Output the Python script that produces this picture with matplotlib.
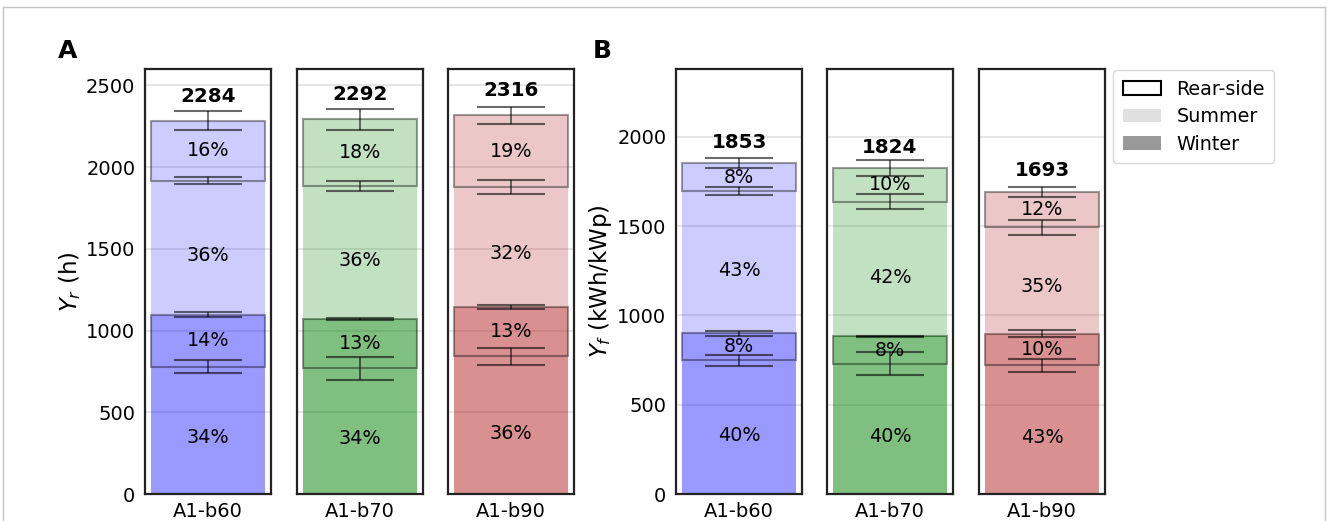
import numpy as np
import matplotlib.pyplot as plt
import matplotlib.colors as mc
from matplotlib.patches import Patch
from matplotlib.lines import Line2D

cases = ["A1-b60", "A1-b70", "A1-b90"]
base_colors = ["blue", "green", "firebrick"]
dark_alpha = [0.4, 0.5, 0.5]
light_alpha = [0.2, 0.24, 0.25]

# panel A: Y_r (h); stack bottom->top = winter front, winter rear, summer front, summer rear
yr_winter_front = [780, 770, 842]
yr_winter_rear = [316, 300, 304]
yr_summer_front = [821, 815, 734]
yr_summer_rear = [367, 407, 436]
yr_err = [[37, 16, 20, 57], [71, 5, 31, 63], [50, 13, 42, 52]]
yr_pct = [["34%", "14%", "36%", "16%"],
          ["34%", "13%", "36%", "18%"],
          ["36%", "13%", "32%", "19%"]]
yr_total = [2284, 2292, 2316]

# panel B: Y_f (kWh/kWp)
yf_winter_front = [748, 730, 721]
yf_winter_rear = [151, 152, 177]
yf_summer_front = [796, 756, 595]
yf_summer_rear = [158, 186, 200]
yf_err = [[33, 13, 22, 29], [63, 4, 40, 45], [37, 19, 44, 28]]
yf_pct = [["40%", "8%", "43%", "8%"],
          ["40%", "8%", "42%", "10%"],
          ["43%", "10%", "35%", "12%"]]
yf_total = [1853, 1824, 1693]

W, H = 1327, 521
FS = 13.8


def rgba(c, a):
    r, g, b = mc.to_rgb(c)
    return (r, g, b, a)


def draw_panel(lefts, wf, wr, sf, sr, err, pct, total, ylim, ticks, off, ylabel):
    axs = []
    for i, x0 in enumerate(lefts):
        ax = fig.add_axes([x0 / W, 27 / H, 126 / W, 425 / H])
        segs = [wf[i], wr[i], sf[i], sr[i]]
        tops = np.cumsum(segs)
        bottoms = tops - np.array(segs)
        dark = rgba(base_colors[i], dark_alpha[i])
        light = rgba(base_colors[i], light_alpha[i])
        fcs = [dark, dark, light, light]
        for k in range(4):
            rear = k in (1, 3)
            ax.bar(0, segs[k], bottom=bottoms[k], width=0.9, color=fcs[k],
                   edgecolor=(0, 0, 0, 0.38) if rear else "none",
                   linewidth=1.5 if rear else 0, zorder=2)
            # front-side labels sit a little below the middle
            frac = 0.5 if rear else 0.44
            ax.text(0, bottoms[k] + segs[k] * frac, pct[i][k], ha="center", va="center",
                    fontsize=FS, zorder=5)
        ax.errorbar([0] * 4, tops, yerr=err[i], fmt="none", ecolor=(0, 0, 0, 0.58),
                    capsize=24.5, elinewidth=1.3, capthick=1.5, zorder=4)
        ax.text(0, total[i] + off, str(total[i]), ha="center", va="center",
                fontsize=FS + 0.5, fontweight="bold", zorder=5)
        ax.set_xlim(-0.5, 0.5)
        ax.set_ylim(*ylim)
        ax.set_yticks(ticks)
        ax.set_xticks([0])
        ax.set_xticklabels([cases[i]], fontsize=FS + 0.4)
        ax.yaxis.grid(True, color="#e4e4e4", linewidth=1.3, zorder=0)
        ax.set_axisbelow(True)
        ax.tick_params(axis="both", length=0, labelsize=FS + 0.2)
        ax.tick_params(axis="y", pad=7)
        ax.tick_params(axis="x", pad=6)
        for s in ax.spines.values():
            s.set_linewidth(1.6)
            s.set_color("#222222")
        if i > 0:
            ax.set_yticklabels([])
        else:
            ax.set_ylabel(ylabel, fontsize=16.5, labelpad=2)
        axs.append(ax)
    return axs


fig = plt.figure(figsize=(W / 100, H / 100), dpi=100)

axA = draw_panel([145, 297, 448], yr_winter_front, yr_winter_rear, yr_summer_front,
                 yr_summer_rear, yr_err, yr_pct, yr_total, (0, 2600),
                 [0, 500, 1000, 1500, 2000, 2500], 150, "$Y_r$ (h)")
axB = draw_panel([676, 827, 979], yf_winter_front, yf_winter_rear, yf_summer_front,
                 yf_summer_rear, yf_err, yf_pct, yf_total, (0, 2380),
                 [0, 500, 1000, 1500, 2000], 118, "$Y_f$ (kWh/kWp)")

fig.text(68 / W, 1 - 51 / H, "A", fontsize=18, fontweight="bold", ha="center", va="center")
fig.text(602 / W, 1 - 51 / H, "B", fontsize=18, fontweight="bold", ha="center", va="center")

handles = [Patch(facecolor="white", edgecolor="black", linewidth=1.5, label="Rear-side"),
           Patch(facecolor="#e0e0e0", edgecolor="none", label="Summer"),
           Patch(facecolor="#999999", edgecolor="none", label="Winter")]
fig.legend(handles=handles, loc="upper left", bbox_to_anchor=(1113 / W, 1 - 70 / H),
           borderaxespad=0, fontsize=FS, frameon=True, handlelength=2.0,
           labelspacing=0.45, borderpad=0.5)

# thin grey frame around the figure
fc = "#c4c4c4"
fig.add_artist(Line2D([3 / W, 3 / W], [0, 1 - 7 / H], transform=fig.transFigure, color=fc, lw=1))
fig.add_artist(Line2D([3 / W, 1325 / W], [1 - 7 / H, 1 - 7 / H], transform=fig.transFigure, color=fc, lw=1))
fig.add_artist(Line2D([1325 / W, 1325 / W], [0, 1 - 7 / H], transform=fig.transFigure, color=fc, lw=1))

fig.savefig("out.png", dpi=100)
